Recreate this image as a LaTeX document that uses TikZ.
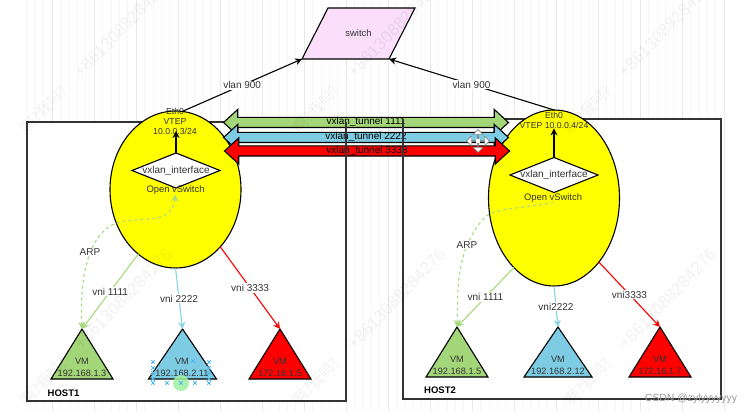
\documentclass[tikz,border=0pt]{standalone}
\usepackage{fontspec}
\setmainfont{Liberation Sans}
\newfontfamily\cjk{Noto Sans CJK SC}
\usetikzlibrary{arrows.meta,shapes}
\pgfdeclarelayer{background layer}
\pgfsetlayers{background layer,main}
\definecolor{ovsyellow}{rgb}{1,1,0}
\definecolor{vmgreen}{rgb}{0.64,0.84,0.47}
\definecolor{vmblue}{rgb}{0.49,0.80,0.89}
\definecolor{lnkgreen}{rgb}{0.66,0.86,0.50}
\definecolor{lnkblue}{rgb}{0.52,0.83,0.91}
\definecolor{swpink}{rgb}{0.98,0.87,0.98}
\definecolor{gridl}{rgb}{0.91,0.91,0.91}
\definecolor{gridm}{rgb}{0.965,0.965,0.965}
\definecolor{selblue}{rgb}{0.30,0.72,0.94}
\definecolor{selgreen}{rgb}{0.62,0.94,0.62}
\begin{document}
\begin{tikzpicture}[x=1pt,y=-1pt]
\tikzstyle{hostbox}=[draw=black!80,line width=1.2pt,fill=white,inner sep=0pt,outer sep=0pt]
\tikzstyle{ovsnode}=[draw=black,line width=1.1pt,ellipse,fill=ovsyellow,inner sep=0pt,outer sep=0pt,minimum width=131pt]
\tikzstyle{vxnode}=[draw=black,line width=1.1pt,diamond,fill=white,inner sep=0pt,outer sep=0pt,minimum width=88pt,minimum height=35pt,aspect=2.5]
\tikzstyle{vmtri}=[draw=black,line width=1.1pt,isosceles triangle,shape border rotate=90,isosceles triangle stretches,inner sep=0pt,outer sep=0pt,minimum height=50pt,anchor=apex]
\tikzstyle{tunnel}=[draw=black,line width=1.1pt,double arrow,double arrow tip angle=85,double arrow head extend=8pt,double arrow head indent=0pt,inner sep=0pt,text height=7pt,text depth=2pt,minimum width=26pt,minimum height=285pt]
\tikzstyle{txt}=[text=black!80,inner sep=0pt,align=center,font=\fontsize{10}{11.5}\selectfont]
\tikzstyle{smalltxt}=[txt,font=\fontsize{8.7}{10}\selectfont]
\tikzstyle{vmtxt}=[txt,font=\fontsize{9.2}{12}\selectfont]
\tikzstyle{lab}=[txt,fill=white,inner sep=1pt]
\tikzstyle{hostlab}=[inner sep=0pt,font=\fontsize{9.5}{11}\selectfont\bfseries]
\tikzstyle{arrow}=[line width=1.1pt,-{Stealth[length=7pt,width=7pt]}]
\tikzstyle{arpline}=[line width=1.1pt,dashed,lnkgreen,{Stealth[length=7pt,width=7pt]}-{Stealth[length=7pt,width=7pt]}]
\tikzstyle{mark86}=[text=black,text opacity=.055,inner sep=0pt,rotate=46,anchor=west,font=\fontsize{17}{17}\selectfont]
\tikzstyle{markcn}=[text=black,text opacity=.055,inner sep=0pt,rotate=46,anchor=east,font=\cjk\fontsize{15}{15}\selectfont]
\tikzstyle{curarrow}=[draw=black!60,fill=white,double arrow,double arrow head extend=3pt,double arrow tip angle=90,double arrow head indent=0pt,inner sep=0pt,minimum width=10pt,minimum height=23pt]
\clip (0,0) rectangle (746,411);
\begin{pgfonlayer}{background layer}
\fill [white] (0,0) rectangle (746,411);
\draw [gridm,shift={(1.6,-5.6)}] (20,5) grid [step=8.4] (727,418);
\draw [gridl,shift={(10,-3)}] (12,3) grid [step=42] (716,416);
\end{pgfonlayer}
\node [hostbox,minimum width=319pt,minimum height=279pt] at (186.5,261.5) (host1) {};
\node [hostbox,minimum width=318pt,minimum height=280pt] at (562,259) (host2) {};
\node [ovsnode,minimum height=157pt] at (175.5,189.5) (ovs1) {};
\node [ovsnode,minimum height=176pt] at (554,198) (ovs2) {};
\node [vxnode] at (176,170.5) (vx1) {};
\node [vxnode] at (554,175) (vx2) {};
\node [txt] at (176,170.5) (vx1t) {vxlan\_interface};
\node [txt] at (554,175) (vx2t) {vxlan\_interface};
\node [smalltxt] at (175,121) (vtep1) {Eth0\\VTEP\\10.0.0.3/24};
\node [smalltxt] at (554,120) (vtep2) {Eth0\\VTEP 10.0.0.4/24};
\node [txt,font=\fontsize{9.4}{11}\selectfont] at (175.5,190) (sw1t) {Open vSwitch};
\node [txt,font=\fontsize{9.4}{11}\selectfont] at (553,198) (sw2t) {Open vSwitch};
\node [draw=black,line width=1.1pt,fill=swpink,trapezium,trapezium left angle=63,trapezium right angle=117,trapezium stretches body,inner sep=0pt,outer sep=0pt,text height=29pt,text depth=22pt,minimum width=113pt,text=black!80,font=\fontsize{9.4}{11}\selectfont] at (358.5,33.5) (sw) {switch};
\node [vmtri,fill=vmgreen,minimum width=62pt] at (82,329) (vm11) {\phantom{x}};
\node [vmtri,fill=vmblue,minimum width=68pt] at (182.5,329) (vm12) {\phantom{x}};
\node [vmtri,fill=red,minimum width=62pt] at (280,329) (vm13) {\phantom{x}};
\node [vmtri,fill=vmgreen,minimum width=62pt] at (457,327) (vm21) {\phantom{x}};
\node [vmtri,fill=vmblue,minimum width=68pt] at (558,327) (vm22) {\phantom{x}};
\node [vmtri,fill=red,minimum width=62pt] at (660,327) (vm23) {\phantom{x}};
\node [vmtxt] at (82,367) (vm11t) {VM\\192.168.1.3};
\node [vmtxt] at (182,367) (vm12t) {VM\\192.168.2.11};
\node [vmtxt] at (280,367) (vm13t) {VM\\172.16.1.5};
\node [vmtxt] at (457,365) (vm21t) {VM\\192.168.1.5};
\node [vmtxt] at (558,365) (vm22t) {VM\\192.168.2.12};
\node [vmtxt] at (660,365) (vm23t) {VM\\172.16.1.7};
\node [hostlab] at (63.5,393) (host1t) {HOST1};
\node [hostlab] at (440,390) (host2t) {HOST2};
\draw [arrow] (ovs1.85) -- node [lab] (vl1) {vlan 900} (sw.bottom left corner);
\draw [arrow] (ovs2.north) -- node [lab] (vl2) {vlan 900} (sw.bottom right corner);
\coordinate (vtep1p) at (176,131);
\draw [arrow] (vx1.north) -- (vtep1p);
\draw [arrow] (vx2.north) -- (vtep2.south);
\draw [arrow,lnkgreen] (ovs1.240) -- node [lab] (ln11) {vni 1111} (vm11.apex);
\draw [arrow,lnkblue] (ovs1.south) -- node [lab] (ln12) {vni 2222} (vm12.apex);
\draw [arrow,red] (ovs1.-52) -- node [lab] (ln13) {vni 3333} (vm13.apex);
\draw [arrow,lnkgreen] (ovs2.240) -- node [lab] (ln21) {vni 1111} (vm21.apex);
\draw [arrow,lnkblue] (ovs2.south) -- node [lab] (ln22) {vni2222} (vm22.apex);
\draw [arrow,red] (ovs2.-55) -- node [lab] (ln23) {vni3333} (vm23.apex);
\draw [arpline] (vm11.apex) .. controls (80,290) and (84,240) .. (112,225) .. controls (135,214) and (172,228) .. (sw1t.south);
\draw [arpline,{Stealth[length=7pt,width=7pt]}-] (vm21.apex) .. controls (458,290) and (455,250) .. (485,217) .. controls (495,208) and (525,208) .. (sw2t.south);
\node [lab] at (90,252) (arp1) {ARP};
\node [lab] at (467,245) (arp2) {ARP};
\node [tunnel,fill=vmgreen] at (366,122.5) (tn1) {vxlan\_tunnel 1111};
\node [tunnel,fill=vmblue] at (366,137.5) (tn2) {vxlan\_tunnel 2222};
\node [tunnel,fill=red] at (367,151) (tn3) {vxlan\_tunnel 3333};
\draw [black!80,line width=1.2pt] (host1.north east) -- (host1.south east);
\draw [black!80,line width=1.2pt] (host2.north west) -- (host2.south west);
\draw [selblue,line width=.8pt] plot [only marks,mark=x,mark size=2.4pt] coordinates {(153,362) (153,368) (153,373) (153,379) (153,383) (167,383) (195,383) (209,383) (209,379) (209,373) (209,368) (209,362) (193,361)};
\fill [selgreen,opacity=.85] (181,383) circle [radius=8];
\draw [selblue,line width=.8pt] plot [only marks,mark=x,mark size=2.4pt] coordinates {(181,383)};
\node [curarrow] at (478,141) (curh) {};
\node [curarrow,rotate=90] at (478,141) (curv) {};
\node [fill=white,inner sep=0pt,minimum size=4pt] at (478,141) (curc) {};
\node [text=black!40,inner sep=0pt,font=\fontsize{10.4}{11}\selectfont] at (691,399) (csdn) {CSDN @zylyyyyyyy};
\node [mark86] at (77,75) (wm1) {+8613088284276};
\node [mark86] at (350,75) (wm2) {+8613088284276};
\node [mark86] at (621,75) (wm3) {+8613088284276};
\node [mark86] at (77,347) (wm4) {+8613088284276};
\node [mark86] at (350,347) (wm5) {+8613088284276};
\node [mark86] at (621,347) (wm6) {+8613088284276};
\node [markcn] at (65,88) (cn1) {啊?我吗?};
\node [markcn] at (337,88) (cn2) {啊?我吗?};
\node [markcn] at (609,88) (cn3) {啊?我吗?};
\node [markcn] at (65,360) (cn4) {啊?我吗?};
\node [markcn] at (337,360) (cn5) {啊?我吗?};
\node [markcn] at (609,360) (cn6) {啊?我吗?};
\end{tikzpicture}
\end{document}
